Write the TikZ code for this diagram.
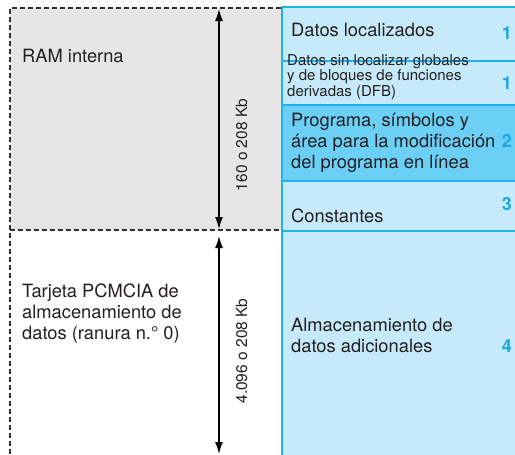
\documentclass[tikz,border=0pt]{standalone}
\usepackage{fontspec}
\setmainfont{TeX Gyre Heros}
\usetikzlibrary{arrows.meta}
\definecolor{lblue}{HTML}{C7EAFA}
\definecolor{mblue}{HTML}{6BCFF6}
\definecolor{bblue}{HTML}{1FB3EE}
\definecolor{nblue}{HTML}{1BA8E3}
\definecolor{gfill}{HTML}{E6E6E6}
\definecolor{txt}{HTML}{231F20}
\begin{document}
\begin{tikzpicture}[x=1pt,y=-1pt,
 lbl/.style={anchor=base west, inner sep=0pt, text=txt, font=\fontsize{18.3}{21}\selectfont, align=left},
 small/.style={anchor=base west, inner sep=0pt, text=txt, font=\fontsize{15}{12}\selectfont, align=left},
 num/.style={anchor=center, inner sep=0pt, text=nblue, font=\fontsize{18}{21}\selectfont\bfseries},
 dimlbl/.style={inner sep=0pt, rotate=90, text=txt, font=\fontsize{15.5}{18}\selectfont},
 dashline/.style={draw=black!80, line width=1.1pt, dash pattern=on 5pt off 3pt},
 dimarrow/.style={line width=1.4pt, {Latex[length=12pt,width=8pt]}-{Latex[length=12pt,width=8pt]}},
 cell/.style={draw=bblue, line width=1.5pt, fill=lblue, anchor=north west, minimum width=240pt, inner sep=0pt}
]
\useasboundingbox (0,0) rectangle (515,455);
\clip (0,0) rectangle (515,455);
% left memory area
\fill[gfill] (10,8) rectangle (281,230);
\draw[dashline] (281,8) -- (10,8) -- (10,456);
\draw[dashline] (10,230) -- (281,230);
% right column cells
\node[cell, minimum height=54pt] (r1) at (281,6) {};
\node[cell, minimum height=44pt] (r2) at (281,60) {};
\node[cell, minimum height=50pt] (r4) at (281,180) {};
\node[cell, minimum height=235pt] (r5) at (281,230) {};
\node[cell, minimum height=76pt, fill=mblue] (r3) at (281,104) {};
% labels (base = baseline of last line)
\node[lbl] (ram) at (22,62) {RAM interna};
\node[lbl] (pcm) at (22,339) {Tarjeta PCMCIA de\\almacenamiento de\\datos (ranura n.° 0)};
\node[lbl] (t1) at (291,37) {Datos localizados};
\node[small] (t2) at (287,96) {Datos sin localizar globales\\y de bloques de funciones\\derivadas (DFB)};
\node[lbl] (t3) at (291,168) {Programa, símbolos y\\área para la modificación\\del programa en línea};
\node[lbl] (t4) at (291,222) {Constantes};
\node[lbl] (t5) at (291,352) {Almacenamiento de\\datos adicionales};
% numbers
\node[num] (n1) at (507,33.5) {1};
\node[num] (n2) at (507,83) {1};
\node[num] (n3) at (507,141) {2};
\node[num] (n4) at (507,204) {3};
\node[num] (n5) at (507,346) {4};
% dimension arrows
\coordinate (a1t) at (219,9);
\coordinate (a1b) at (219,229);
\coordinate (a2t) at (219,236);
\coordinate (a2b) at (219,454);
\draw[dimarrow] (a1t) -- (a1b);
\draw[dimarrow] (a2t) -- (a2b);
\node[dimlbl] (d1) at (241.5,145) {160 o 208 Kb};
\node[dimlbl] (d2) at (241.5,351) {4.096 o 208 Kb};
\end{tikzpicture}
\end{document}
